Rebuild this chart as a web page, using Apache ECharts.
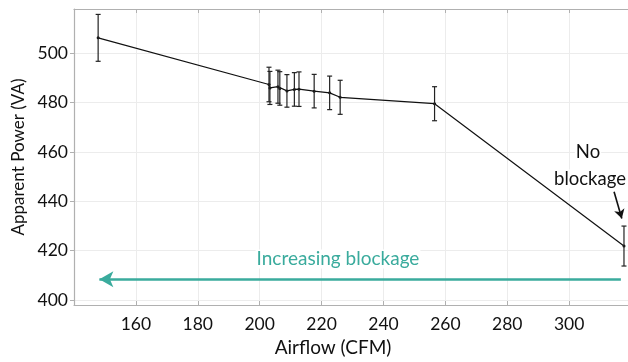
<!DOCTYPE html>
<html>
<head>
<meta charset="utf-8">
<script src="https://cdn.jsdelivr.net/npm/echarts@6/dist/echarts.min.js"></script>
<style>
  html, body { margin: 0; padding: 0; background: #fff; }
  #chart { width: 628px; height: 362px; }
</style>
</head>
<body>
<div id="chart"></div>
<script>
// airflow (CFM), apparent power (VA) and the half-height of each error bar
const airflow = [147.8, 203.0, 203.3, 205.9, 206.5, 208.8, 211.2, 212.7, 217.6, 222.6, 226.0, 256.5, 317.7];
const power = [506.3, 487.4, 486.0, 486.5, 485.8, 484.8, 485.4, 485.5, 484.7, 484.0, 482.2, 479.6, 421.9];
const powerErr = [9.5, 7.0, 6.7, 6.7, 6.8, 6.6, 6.8, 7.0, 6.8, 6.8, 6.9, 6.9, 8.1];
const yTicks = [400, 420, 440, 460, 480, 500];

const font = "Lato, 'Open Sans', sans-serif";
const textColor = "#111";
const teal = "#3aab9d";

const chart = echarts.init(document.getElementById("chart"), null, { renderer: "canvas" });

const points = airflow.map((x, i) => [x, power[i]]);
const bars = airflow.map((x, i) => [x, power[i] - powerErr[i], power[i] + powerErr[i]]);

function errorBar(params, api) {
  const x = api.value(0);
  const lo = api.coord([x, api.value(1)]);
  const hi = api.coord([x, api.value(2)]);
  const cap = 2.5;
  const style = { stroke: "#222", lineWidth: 1.2 };
  return {
    type: "group",
    children: [
      { type: "line", shape: { x1: lo[0], y1: lo[1], x2: hi[0], y2: hi[1] }, style },
      { type: "line", shape: { x1: lo[0] - cap, y1: lo[1], x2: lo[0] + cap, y2: lo[1] }, style },
      { type: "line", shape: { x1: hi[0] - cap, y1: hi[1], x2: hi[0] + cap, y2: hi[1] }, style },
    ],
  };
}

function note(text, x, y, color, size) {
  return {
    type: "text",
    x, y,
    z: 50,
    style: {
      text, fill: color, font: size + "px " + font,
      align: "center", verticalAlign: "middle",
      backgroundColor: "#fff", padding: [0, 1],
    },
  };
}

const gridLine = { show: true, lineStyle: { color: "#ececec", width: 1 } };
const axisLine = { show: true, lineStyle: { color: "#b0b0b0", width: 1.2 } };

chart.setOption({
  animation: false,
  grid: { left: 74, right: 0, top: 9, bottom: 57 },
  xAxis: [
    {
      type: "value",
      min: 140,
      max: 319,
      interval: 20,
      name: "Airflow (CFM)",
      nameLocation: "middle",
      nameGap: 33,
      nameTextStyle: { fontFamily: font, fontSize: 19, color: textColor, padding: [0, 36, 0, 0] },
      axisLine,
      axisTick: { show: true, inside: true, length: 4, lineStyle: { color: "#b0b0b0" } },
      axisLabel: {
        fontFamily: font, fontSize: 17.5, color: textColor, margin: 10,
        showMinLabel: false, showMaxLabel: false,
      },
      splitLine: gridLine,
    },
    {
      type: "value",
      position: "top",
      min: 140,
      max: 319,
      interval: 20,
      axisLine,
      axisTick: { show: true, inside: true, length: 4, lineStyle: { color: "#b0b0b0" } },
      axisLabel: { show: false },
      splitLine: { show: false },
    },
  ],
  yAxis: {
    type: "value",
    min: 398,
    max: 518,
    name: "Apparent Power (VA)",
    nameLocation: "middle",
    nameGap: 45,
    nameTextStyle: { fontFamily: font, fontSize: 17, color: textColor },
    axisLine,
    axisTick: { show: true, length: 4, customValues: yTicks, lineStyle: { color: "#b0b0b0" } },
    axisLabel: { fontFamily: font, fontSize: 17.5, color: textColor, margin: 6, customValues: yTicks },
    splitLine: gridLine,
  },
  series: [
    {
      type: "line",
      data: points,
      symbol: "circle",
      symbolSize: 3,
      itemStyle: { color: "#111" },
      lineStyle: { color: "#111", width: 1.2 },
      z: 3,
      markLine: {
        silent: true,
        animation: false,
        label: { show: false },
        data: [
          [
            { coord: [316.7, 408.4], symbol: "none" },
            { coord: [148.2, 408.4], symbol: "arrow", symbolSize: [12, 14] },
          ],
          [
            { coord: [314.5, 443.9], symbol: "none", lineStyle: { color: "#111", width: 1.6, type: "solid" } },
            { coord: [317.0, 433.1], symbol: "arrow", symbolSize: [8, 9], lineStyle: { color: "#111", width: 1.6, type: "solid" } },
          ],
        ],
        lineStyle: { color: teal, width: 2.5, type: "solid" },
      },
    },
    {
      type: "custom",
      renderItem: errorBar,
      data: bars,
      encode: { x: 0, y: [1, 2] },
      z: 4,
    },
  ],
  graphic: [
    note("Increasing blockage", 338, 259, teal, 19),
    note("No", 588, 152, textColor, 18.5),
    note("blockage", 590, 179, textColor, 18.5),
  ],
});
</script>
</body>
</html>
